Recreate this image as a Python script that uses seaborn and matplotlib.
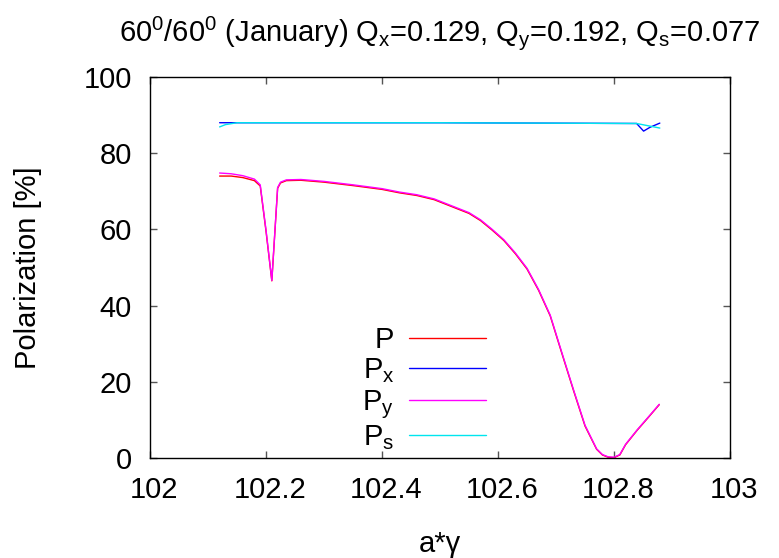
import matplotlib
matplotlib.use("Agg")
import matplotlib.pyplot as plt
import matplotlib.transforms as mtransforms
import seaborn as sns
import pandas as pd

# Beam polarization versus spin tune a*gamma
x_main = [102.12, 102.14, 102.16, 102.18, 102.19, 102.20, 102.21, 102.22, 102.225,
          102.235, 102.26, 102.30, 102.35, 102.40, 102.43, 102.46, 102.49, 102.52,
          102.55, 102.57, 102.59, 102.61, 102.63, 102.65, 102.67, 102.69, 102.71,
          102.73, 102.75, 102.77, 102.78, 102.79, 102.80, 102.81, 102.82, 102.84,
          102.86, 102.878]
pol_total = [74.0, 74.0, 73.6, 72.8, 71.4, 59.5, 46.5, 70.8, 72.2, 72.8, 72.9, 72.4,
             71.5, 70.5, 69.6, 68.9, 67.8, 66.0, 64.2, 62.3, 59.8, 57.1, 53.6, 49.6,
             44.0, 37.3, 27.5, 17.8, 8.4, 2.3, 0.8, 0.2, 0.1, 0.8, 3.5, 7.3, 10.8, 14.0]
pol_y = [74.8, 74.6, 74.1, 73.2, 71.7, 59.8, 46.6, 71.0, 72.4, 73.0, 73.1, 72.6,
         71.7, 70.7, 69.8, 69.1, 68.0, 66.2, 64.4, 62.5, 60.0, 57.3, 53.8, 49.8,
         44.2, 37.5, 27.7, 18.0, 8.6, 2.4, 0.9, 0.3, 0.2, 0.9, 3.6, 7.4, 10.9, 14.1]

x_px = [102.12, 102.50, 102.839, 102.851, 102.862, 102.879]
pol_x = [88.0, 88.0, 87.8, 85.8, 86.8, 87.9]

x_ps = [102.12, 102.13, 102.15, 102.50, 102.839, 102.879]
pol_s = [86.9, 87.5, 88.0, 88.0, 87.8, 86.6]

x_ticks = [102, 102.2, 102.4, 102.6, 102.8, 103]
x_tick_labels = ["102", "102.2", "102.4", "102.6", "102.8", "103"]
y_ticks = [0, 20, 40, 60, 80, 100]

sns.set_style("ticks")
plt.rcParams["font.family"] = ["Liberation Sans", "DejaVu Sans"]
plt.rcParams["mathtext.fontset"] = "custom"
plt.rcParams["mathtext.rm"] = "Liberation Sans"
plt.rcParams["mathtext.it"] = "Liberation Sans"
plt.rcParams["mathtext.default"] = "regular"
plt.rcParams["text.color"] = "black"
plt.rcParams["axes.labelcolor"] = "black"

FS = 21

fig = plt.figure(figsize=(7.79, 5.58), dpi=100)
ax = fig.add_axes([0.1926, 0.1792, 0.9371 - 0.1926, 0.862 - 0.1792])

main_df = pd.DataFrame({"x": x_main, "P": pol_total, "Py": pol_y})
px_df = pd.DataFrame({"x": x_px, "Px": pol_x})
ps_df = pd.DataFrame({"x": x_ps, "Ps": pol_s})

sns.lineplot(data=main_df, x="x", y="P", ax=ax, color="#ff0000", lw=1.0,
             estimator=None, sort=False, label="P")
sns.lineplot(data=px_df, x="x", y="Px", ax=ax, color="#0000ff", lw=1.0,
             estimator=None, sort=False, label=r"P$_x$")
sns.lineplot(data=main_df, x="x", y="Py", ax=ax, color="#ff00ff", lw=1.0,
             estimator=None, sort=False, label=r"P$_y$")
sns.lineplot(data=ps_df, x="x", y="Ps", ax=ax, color="#00e5ee", lw=1.0,
             estimator=None, sort=False, label=r"P$_s$")

ax.set_xlim(102, 103)
ax.set_ylim(0, 100)
ax.set_xticks(x_ticks)
ax.set_xticklabels(x_tick_labels)
ax.set_yticks(y_ticks)

for side in ["top", "right", "bottom", "left"]:
    ax.spines[side].set_visible(True)
    ax.spines[side].set_color("black")
    ax.spines[side].set_linewidth(1.0)

ax.tick_params(axis="both", direction="in", length=5, width=1, color="#555555",
               top=True, right=True, labelsize=FS, labelcolor="black")
ax.tick_params(axis="x", pad=13)
ax.tick_params(axis="y", pad=13)
shift = mtransforms.ScaledTranslation(4 / 100, 0, fig.dpi_scale_trans)
for lbl in ax.get_xticklabels():
    lbl.set_transform(lbl.get_transform() + shift)

ax.set_xlabel("a*γ", fontsize=FS, labelpad=19)
ax.set_ylabel("Polarization [%]", fontsize=FS, labelpad=30)
ax.set_title(r"60$^0$/60$^0$ (January) Q$_x$=0.129, Q$_y$=0.192, Q$_s$=0.077",
             fontsize=FS, pad=26)

leg = ax.legend(loc="upper left", bbox_to_anchor=(0.341, 0.385), frameon=False,
                markerfirst=False, fontsize=FS, handlelength=2.65,
                handletextpad=0.5, labelspacing=0.09, borderpad=0.0)
for t in leg.get_texts():
    t.set_ha("right")

fig.savefig("out.png", dpi=100)
